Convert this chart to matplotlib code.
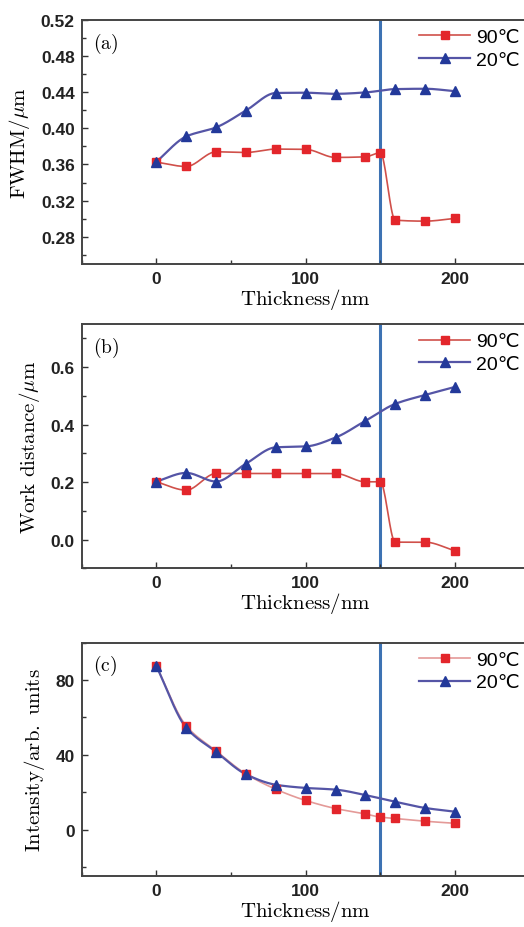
import matplotlib
matplotlib.use('Agg')
import matplotlib.pyplot as plt
from matplotlib.ticker import MultipleLocator
import numpy as np

plt.rcParams['mathtext.fontset'] = 'cm'

# Film thickness (nm); the 90 C runs have an extra point at 150 nm
thick_90 = [0, 20, 40, 60, 80, 100, 120, 140, 150, 160, 180, 200]
thick_20 = [0, 20, 40, 60, 80, 100, 120, 140, 160, 180, 200]

fwhm_90 = [0.3626, 0.3578, 0.374, 0.3733, 0.377, 0.3767, 0.3678, 0.3685, 0.373, 0.2985, 0.2974, 0.3004]
fwhm_20 = [0.363, 0.391, 0.401, 0.4196, 0.439, 0.4393, 0.4381, 0.4396, 0.4433, 0.4437, 0.441]

wd_90 = [0.201, 0.172, 0.230, 0.230, 0.230, 0.230, 0.230, 0.201, 0.201, -0.009, -0.009, -0.039]
wd_20 = [0.202, 0.232, 0.202, 0.264, 0.321, 0.324, 0.355, 0.413, 0.472, 0.503, 0.531]

int_90 = [87.4, 55.5, 42.1, 29.8, 21.6, 15.6, 11.3, 8.4, 6.7, 6.0, 4.5, 3.4]
int_20 = [87.4, 54.5, 41.6, 29.6, 24.0, 22.3, 21.4, 18.5, 14.9, 11.6, 9.6]

marker_line = 150
labels = ['90\u2103', '20\u2103']
sans = ['Liberation Sans', 'DejaVu Sans']


def pchip(x, y, xs):
    # monotone cubic Hermite curve through the measured points
    x = np.asarray(x, float)
    y = np.asarray(y, float)
    h = np.diff(x)
    d = np.diff(y) / h
    n = len(x)
    m = np.zeros(n)
    m[0], m[-1] = d[0], d[-1]
    for k in range(1, n - 1):
        if d[k - 1] * d[k] > 0:
            w1 = 2 * h[k] + h[k - 1]
            w2 = h[k] + 2 * h[k - 1]
            m[k] = (w1 + w2) / (w1 / d[k - 1] + w2 / d[k])
    idx = np.clip(np.searchsorted(x, xs) - 1, 0, n - 2)
    t = (xs - x[idx]) / h[idx]
    h00 = 2 * t**3 - 3 * t**2 + 1
    h10 = t**3 - 2 * t**2 + t
    h01 = -2 * t**3 + 3 * t**2
    h11 = t**3 - t**2
    return h00 * y[idx] + h10 * h[idx] * m[idx] + h01 * y[idx + 1] + h11 * h[idx] * m[idx + 1]


fig = plt.figure(figsize=(5.24, 9.28), dpi=100)
left, width = 0.156, 0.8546
panels = [
    ([left, 0.7144, width, 0.2633], fwhm_90, fwhm_20, (0.25, 0.52), 0.04, 0.02,
     r'$\mathrm{FWHM/\mu m}$', '(a)', '%.2f', '#d0504a'),
    ([left, 0.3865, width, 0.2633], wd_90, wd_20, (-0.1, 0.75), 0.2, 0.1,
     r'$\mathrm{Work\ distance/\mu m}$', '(b)', '%.1f', '#d0504a'),
    ([left, 0.0545, width, 0.2520], int_90, int_20, (-25, 100), 40, 20,
     r'$\mathrm{Intensity/arb.\ units}$', '(c)', '%d', '#e49a98'),
]

for rect, y90, y20, ylim, major, minor, ylab, tag, fmt, red_line in panels:
    ax = fig.add_axes(rect)
    xs90 = np.linspace(thick_90[0], thick_90[-1], 400)
    xs20 = np.linspace(thick_20[0], thick_20[-1], 400)
    ax.plot(xs90, pchip(thick_90, y90, xs90), color=red_line, lw=1.2, zorder=2)
    ax.plot(xs20, pchip(thick_20, y20, xs20), color='#5555a6', lw=1.6, zorder=2)
    ax.plot(thick_90, y90, ls='none', marker='s', ms=6, color='#e3262b', zorder=3)
    ax.plot(thick_20, y20, ls='none', marker='^', ms=7, color='#23399a', zorder=3)
    ax.axvline(marker_line, color='#3d72b3', lw=2.2, zorder=1)

    # legend proxies: line with the marker in the middle
    h1, = ax.plot([], [], color=red_line, lw=1.2, marker='s', ms=6,
                  mfc='#e3262b', mec='#e3262b')
    h2, = ax.plot([], [], color='#5555a6', lw=1.6, marker='^', ms=7,
                  mfc='#23399a', mec='#23399a')
    ax.legend([h1, h2], labels, loc='upper right', bbox_to_anchor=(0.997, 1.0),
              frameon=False, handlelength=2.6, handletextpad=0.3,
              borderaxespad=0.0, borderpad=0.45, labelspacing=0.25,
              prop={'family': sans, 'size': 14})

    ax.text(0.025, 0.955, r'$\mathrm{' + tag + '}$', transform=ax.transAxes,
            ha='left', va='top', fontsize=14)

    ax.set_xlim(-50, 250)
    ax.set_ylim(*ylim)
    ax.xaxis.set_major_locator(MultipleLocator(100))
    ax.xaxis.set_minor_locator(MultipleLocator(50))
    ax.yaxis.set_major_locator(MultipleLocator(major))
    ax.yaxis.set_minor_locator(MultipleLocator(minor))
    ax.yaxis.set_major_formatter(plt.FormatStrFormatter(fmt))
    ax.tick_params(which='both', direction='in', color='#333333', width=1.0)
    ax.tick_params(which='major', length=4, pad=5, labelsize=12.5, labelcolor='#222222')
    ax.tick_params(which='minor', length=3)
    for lab in ax.get_xticklabels() + ax.get_yticklabels():
        lab.set_fontfamily(sans)
        lab.set_fontweight('bold')
    for sp in ax.spines.values():
        sp.set_color('#444444')
        sp.set_linewidth(1.4)

    ax.set_xlabel(r'$\mathrm{Thickness/nm}$', fontsize=15, labelpad=0)
    ax.set_ylabel(ylab, fontsize=15, labelpad=6)

fig.savefig('out.png', dpi=100, facecolor='white')
